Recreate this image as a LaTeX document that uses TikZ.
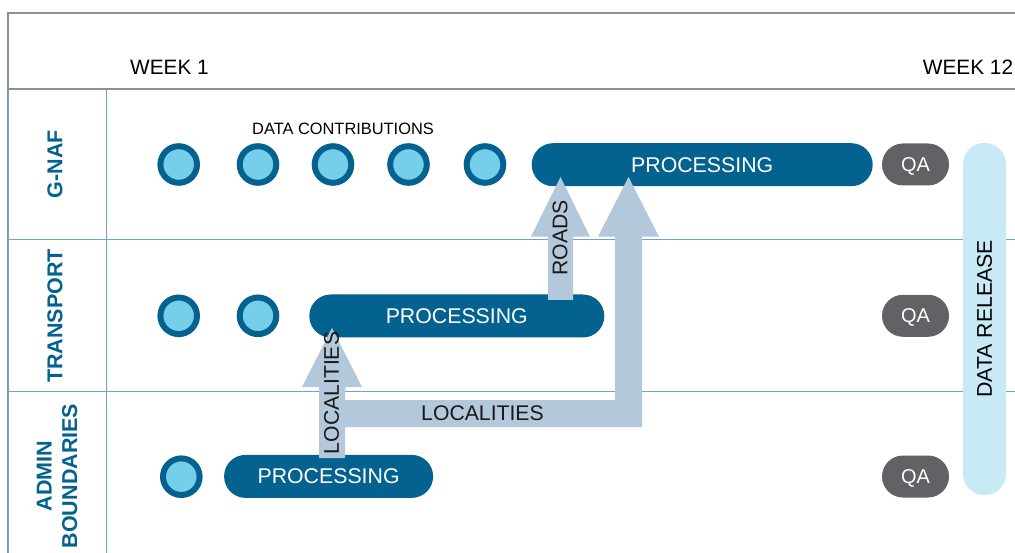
\documentclass[tikz,border=0pt]{standalone}
\usepackage{fontspec}
\setmainfont{Liberation Sans}
\definecolor{dblue}{HTML}{03628F}
\definecolor{lblue}{HTML}{76CFEA}
\definecolor{arrowc}{HTML}{B3C8DA}
\definecolor{qagray}{HTML}{616166}
\definecolor{relc}{HTML}{C8E9F6}
\definecolor{rowline}{HTML}{6AA6CB}
\definecolor{hdrline}{HTML}{8A8F94}
\tikzset{
  bar/.style={rectangle, rounded corners=21.4pt, fill=dblue, text=white, minimum height=43pt, inner sep=0pt, font=\fontsize{21.3}{25}\selectfont},
  qa/.style={rectangle, rounded corners=21pt, fill=qagray, text=white, minimum width=67pt, minimum height=42pt, inner sep=0pt, text depth=0pt, font=\fontsize{20}{23}\selectfont},
  dot/.style={circle, draw=dblue, line width=6pt, fill=lblue, minimum size=36.6pt, inner sep=0pt},
  lanelabel/.style={rotate=90, text=dblue, font=\fontsize{21.5}{25.5}\selectfont\bfseries, align=center},
  weektxt/.style={font=\fontsize{20.8}{24}\selectfont, text=black},
  arrtxt/.style={font=\fontsize{21.2}{25}\selectfont, text=black!90, inner sep=0pt},
}
\begin{document}
\begin{tikzpicture}[x=1pt,y=-1pt]
\useasboundingbox[fill=white] (0,0) rectangle (1015,553);
% frame lines
\draw[hdrline, line width=1.2pt] (8,553) coordinate (bl) -- (8,13) -- (1015,13);
\draw[hdrline, line width=1.4pt] (8,89) -- (1015,89);
\draw[rowline, line width=1pt] (8,89) -- (8,553);
\draw[rowline, line width=1pt] (106,89) -- (106,553);
\draw[rowline, line width=1pt] (8,240) -- (1015,240);
\draw[rowline, line width=1pt] (8,391.5) -- (1015,391.5);
% header
\node[weektxt] (w1) at (169.5,67) {WEEK 1};
\node[weektxt] (w12) at (968,67) {WEEK 12};
% lane labels
\node[lanelabel] (lg) at (55,164) {G-NAF};
\node[lanelabel] (lt) at (55,316) {TRANSPORT};
\node[lanelabel] (la) at (57,476) {ADMIN\\BOUNDARIES};
% G-NAF row
\node[font=\fontsize{16.4}{19}\selectfont] (dc) at (343,129) {DATA CONTRIBUTIONS};
\node[dot] (g1) at (178.7,164.5) {};
\node[dot] (g2) at (258,164.5) {};
\node[dot] (g3) at (333,164.5) {};
\node[dot] (g4) at (408.5,164.5) {};
\node[dot] (g5) at (485,164.5) {};
\node[bar, minimum width=341pt] (gp) at (702.2,164.7) {PROCESSING};
\node[qa] (q1) at (915.5,164.5) {QA};
% Transport row
\node[dot] (t1) at (178.7,315.8) {};
\node[dot] (t2) at (258,315.8) {};
\node[bar, minimum width=295pt] (tp) at (456.8,316) {PROCESSING};
\node[qa] (q2) at (915.5,315.8) {QA};
% Admin row
\node[dot] (a1) at (181.3,476.7) {};
\node[bar, minimum width=209pt] (ap) at (328.6,476.4) {PROCESSING};
\node[qa] (q3) at (915.5,476.5) {QA};
% Data release
\node[rectangle, rounded corners=21pt, fill=relc, rotate=90, minimum width=352pt, minimum height=43pt, inner sep=0pt, font=\fontsize{21.3}{25}\selectfont] (rel) at (984.5,319) {DATA RELEASE};
% block arrows
\fill[arrowc] (548,300) -- (548,236.7) -- (531,236.7) -- (560.5,177) -- (590,236.7) -- (573,236.7) -- (573,300) -- cycle;
\fill[arrowc] (340,400) -- (615,400) -- (615,236.7) -- (598,236.7) -- (628.5,177) -- (659,236.7) -- (642,236.7) -- (642,427) -- (340,427) -- cycle;
\fill[arrowc] (319,458) -- (319,387) -- (302,387) -- (332,328) -- (362,387) -- (345,387) -- (345,458) -- cycle;
\node[arrtxt, rotate=90] (roads) at (560,238) {ROADS};
\node[arrtxt, rotate=90] (loc1) at (331.5,393) {LOCALITIES};
\node[arrtxt] (loc2) at (482.5,413) {LOCALITIES};
\end{tikzpicture}
\end{document}
